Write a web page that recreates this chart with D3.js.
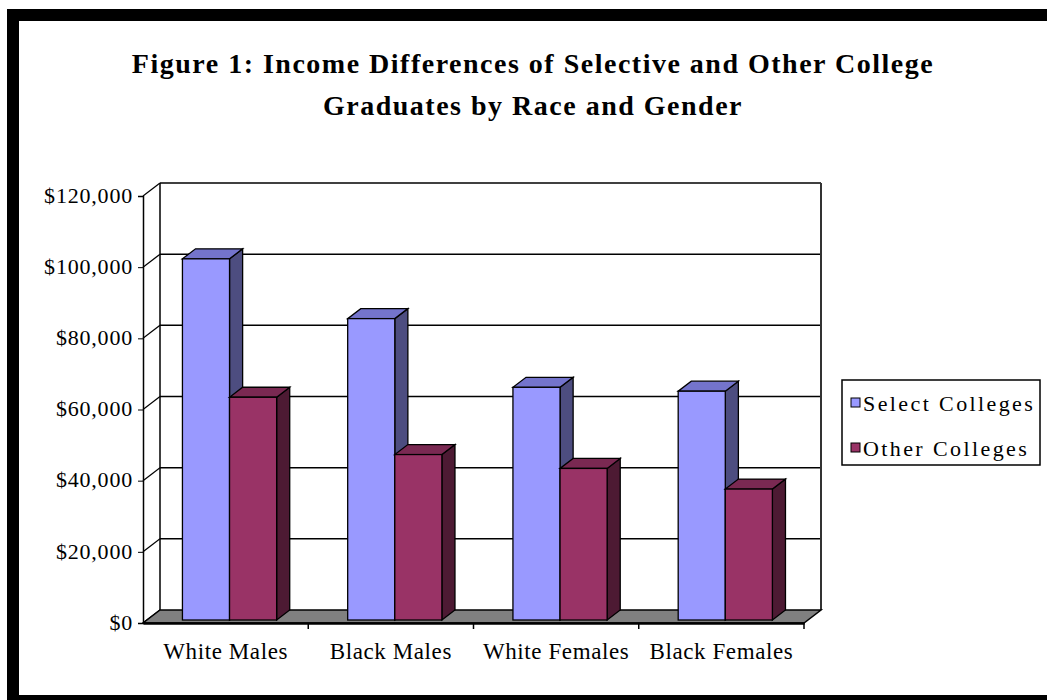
<!DOCTYPE html>
<html>
<head>
<meta charset="utf-8">
<script src="https://cdn.jsdelivr.net/npm/d3@7"></script>
<style>
  body { margin: 0; background: #fff; }
  text { font-family: "Liberation Serif", "Times New Roman", serif; fill: #000; }
</style>
</head>
<body>
<div id="chart"></div>
<script>
var categories = ["White Males", "Black Males", "White Females", "Black Females"];
var seriesNames = ["Select Colleges", "Other Colleges"];
var selectValues = [101500, 84700, 65400, 64300];
var otherValues = [62600, 46500, 42600, 36800];
var yTicks = [0, 20000, 40000, 60000, 80000, 100000, 120000];

var width = 1047, height = 700;
var colors = {
    "Select Colleges": {front: "#9999ff", top: "#7474cc", side: "#4d4d80"},
    "Other Colleges": {front: "#993366", top: "#7a2952", side: "#4d1a33"}
};

var svg = d3.select("#chart")
    .append("svg")
    .attr("width", width)
    .attr("height", height);

// outer frame
svg.append("rect")
    .attr("x", 13).attr("y", 15)
    .attr("width", 1100).attr("height", 686)
    .attr("fill", "#fff")
    .attr("stroke", "#000")
    .attr("stroke-width", 12);

// title
var title = svg.append("text")
    .attr("text-anchor", "middle")
    .style("font-size", "28px")
    .style("font-weight", "bold")
    .style("letter-spacing", "1.5px");
title.append("tspan").attr("x", 533).attr("y", 73)
    .text("Figure 1: Income Differences of Selective and Other College");
title.append("tspan").attr("x", 533).attr("y", 115)
    .text("Graduates by Race and Gender");

// depth offset of the 3d box
var DX = 17, DY = 13;
var yScale = d3.scaleLinear().domain([0, 120000]).range([623, 196]);
var xScale = d3.scaleBand().domain(categories).range([143, 804]);
var sScale = d3.scaleBand().domain(seriesNames)
    .range([xScale.bandwidth() * 0.215, xScale.bandwidth() * 0.785]);

// back wall
var wall = svg.append("g");
wall.selectAll(".grid")
    .data(yTicks.slice(1))
    .enter()
    .append("line")
    .attr("x1", 143 + DX).attr("x2", 804 + DX)
    .attr("y1", function(d) { return yScale(d) - DY; })
    .attr("y2", function(d) { return yScale(d) - DY; })
    .attr("stroke", "#000").attr("stroke-width", 1.5);
wall.append("line")
    .attr("x1", 143 + DX).attr("x2", 143 + DX)
    .attr("y1", yScale(120000) - DY).attr("y2", yScale(0) - DY)
    .attr("stroke", "#000").attr("stroke-width", 1.5);
wall.append("line")
    .attr("x1", 804 + DX).attr("x2", 804 + DX)
    .attr("y1", yScale(120000) - DY).attr("y2", yScale(0) - DY)
    .attr("stroke", "#333").attr("stroke-width", 2);

// side wall diagonals
wall.selectAll(".side")
    .data(yTicks)
    .enter()
    .append("line")
    .attr("x1", 143).attr("x2", 143 + DX)
    .attr("y1", function(d) { return yScale(d); })
    .attr("y2", function(d) { return yScale(d) - DY; })
    .attr("stroke", "#000").attr("stroke-width", 1.2);

// floor
svg.append("polygon")
    .attr("points", [[143, yScale(0)], [804, yScale(0)], [804 + DX, yScale(0) - DY], [143 + DX, yScale(0) - DY]].join(" "))
    .attr("fill", "#808080")
    .attr("stroke", "#000")
    .attr("stroke-width", 1.5);

// y axis
var yAxis = svg.append("g")
    .attr("transform", "translate(143,0)")
    .call(d3.axisLeft(yScale).tickValues(yTicks).tickSize(5).tickPadding(5).tickFormat(d3.format("$,")));
yAxis.select(".domain").attr("stroke-width", 1.5);
yAxis.selectAll("text")
    .attr("dy", "0.28em")
    .style("font-family", "'Liberation Serif', serif")
    .style("font-size", "22px")
    .style("letter-spacing", "0.8px")
    .attr("fill", "#000");

// x axis
var xAxis = svg.append("g")
    .attr("transform", "translate(0," + yScale(0) + ")")
    .call(d3.axisBottom(xScale).tickSize(0).tickPadding(20));
xAxis.select(".domain").attr("stroke-width", 2.5);
xAxis.selectAll("text")
    .style("font-family", "'Liberation Serif', serif")
    .style("font-size", "23px")
    .style("letter-spacing", "0.6px")
    .attr("fill", "#000");
xAxis.selectAll(".sep")
    .data(categories)
    .enter()
    .append("line")
    .attr("x1", function(d) { return xScale(d) + xScale.bandwidth(); })
    .attr("x2", function(d) { return xScale(d) + xScale.bandwidth(); })
    .attr("y1", 0).attr("y2", 6)
    .attr("stroke", "#000").attr("stroke-width", 1.5);

// bars
var rows = [];
categories.forEach(function(c, i) {
    rows.push({cat: c, series: "Select Colleges", value: selectValues[i]});
    rows.push({cat: c, series: "Other Colleges", value: otherValues[i]});
});

var f0 = 0.23;
var ox = DX * f0, oy = DY * f0;
var bx = DX * (1 - f0), by = DY * (1 - f0);

var bars = svg.selectAll(".bar")
    .data(rows)
    .enter()
    .append("g")
    .attr("class", "bar");

bars.each(function(d) {
    var g = d3.select(this);
    var x1 = xScale(d.cat) + sScale(d.series) + ox;
    var x2 = x1 + sScale.bandwidth();
    var yb = yScale(0) - oy;
    var yt = yScale(d.value) - oy;
    var c = colors[d.series];
    g.append("polygon")
        .attr("points", [[x2, yb], [x2 + bx, yb - by], [x2 + bx, yt - by], [x2, yt]].join(" "))
        .attr("fill", c.side).attr("stroke", "#000").attr("stroke-width", 1.3);
    g.append("polygon")
        .attr("points", [[x1, yt], [x2, yt], [x2 + bx, yt - by], [x1 + bx, yt - by]].join(" "))
        .attr("fill", c.top).attr("stroke", "#000").attr("stroke-width", 1.3);
    g.append("rect")
        .attr("x", x1).attr("y", yt)
        .attr("width", x2 - x1).attr("height", yb - yt)
        .attr("fill", c.front).attr("stroke", "#000").attr("stroke-width", 1.3);
});

// legend
var legend = svg.append("g");
legend.append("rect")
    .attr("x", 842).attr("y", 380)
    .attr("width", 198).attr("height", 85)
    .attr("fill", "#fff")
    .attr("stroke", "#000").attr("stroke-width", 1.5);
legend.selectAll(".sw")
    .data(seriesNames)
    .enter()
    .append("rect")
    .attr("x", 851)
    .attr("y", function(d, i) { return 398 + i * 45; })
    .attr("width", 9).attr("height", 9)
    .attr("fill", function(d) { return colors[d].front; })
    .attr("stroke", "#000");
legend.selectAll(".lab")
    .data(seriesNames)
    .enter()
    .append("text")
    .attr("x", 863)
    .attr("y", function(d, i) { return 403 + i * 45; })
    .attr("dominant-baseline", "central")
    .style("font-size", "22px")
    .style("letter-spacing", "2.4px")
    .text(function(d) { return d; });
</script>
</body>
</html>
